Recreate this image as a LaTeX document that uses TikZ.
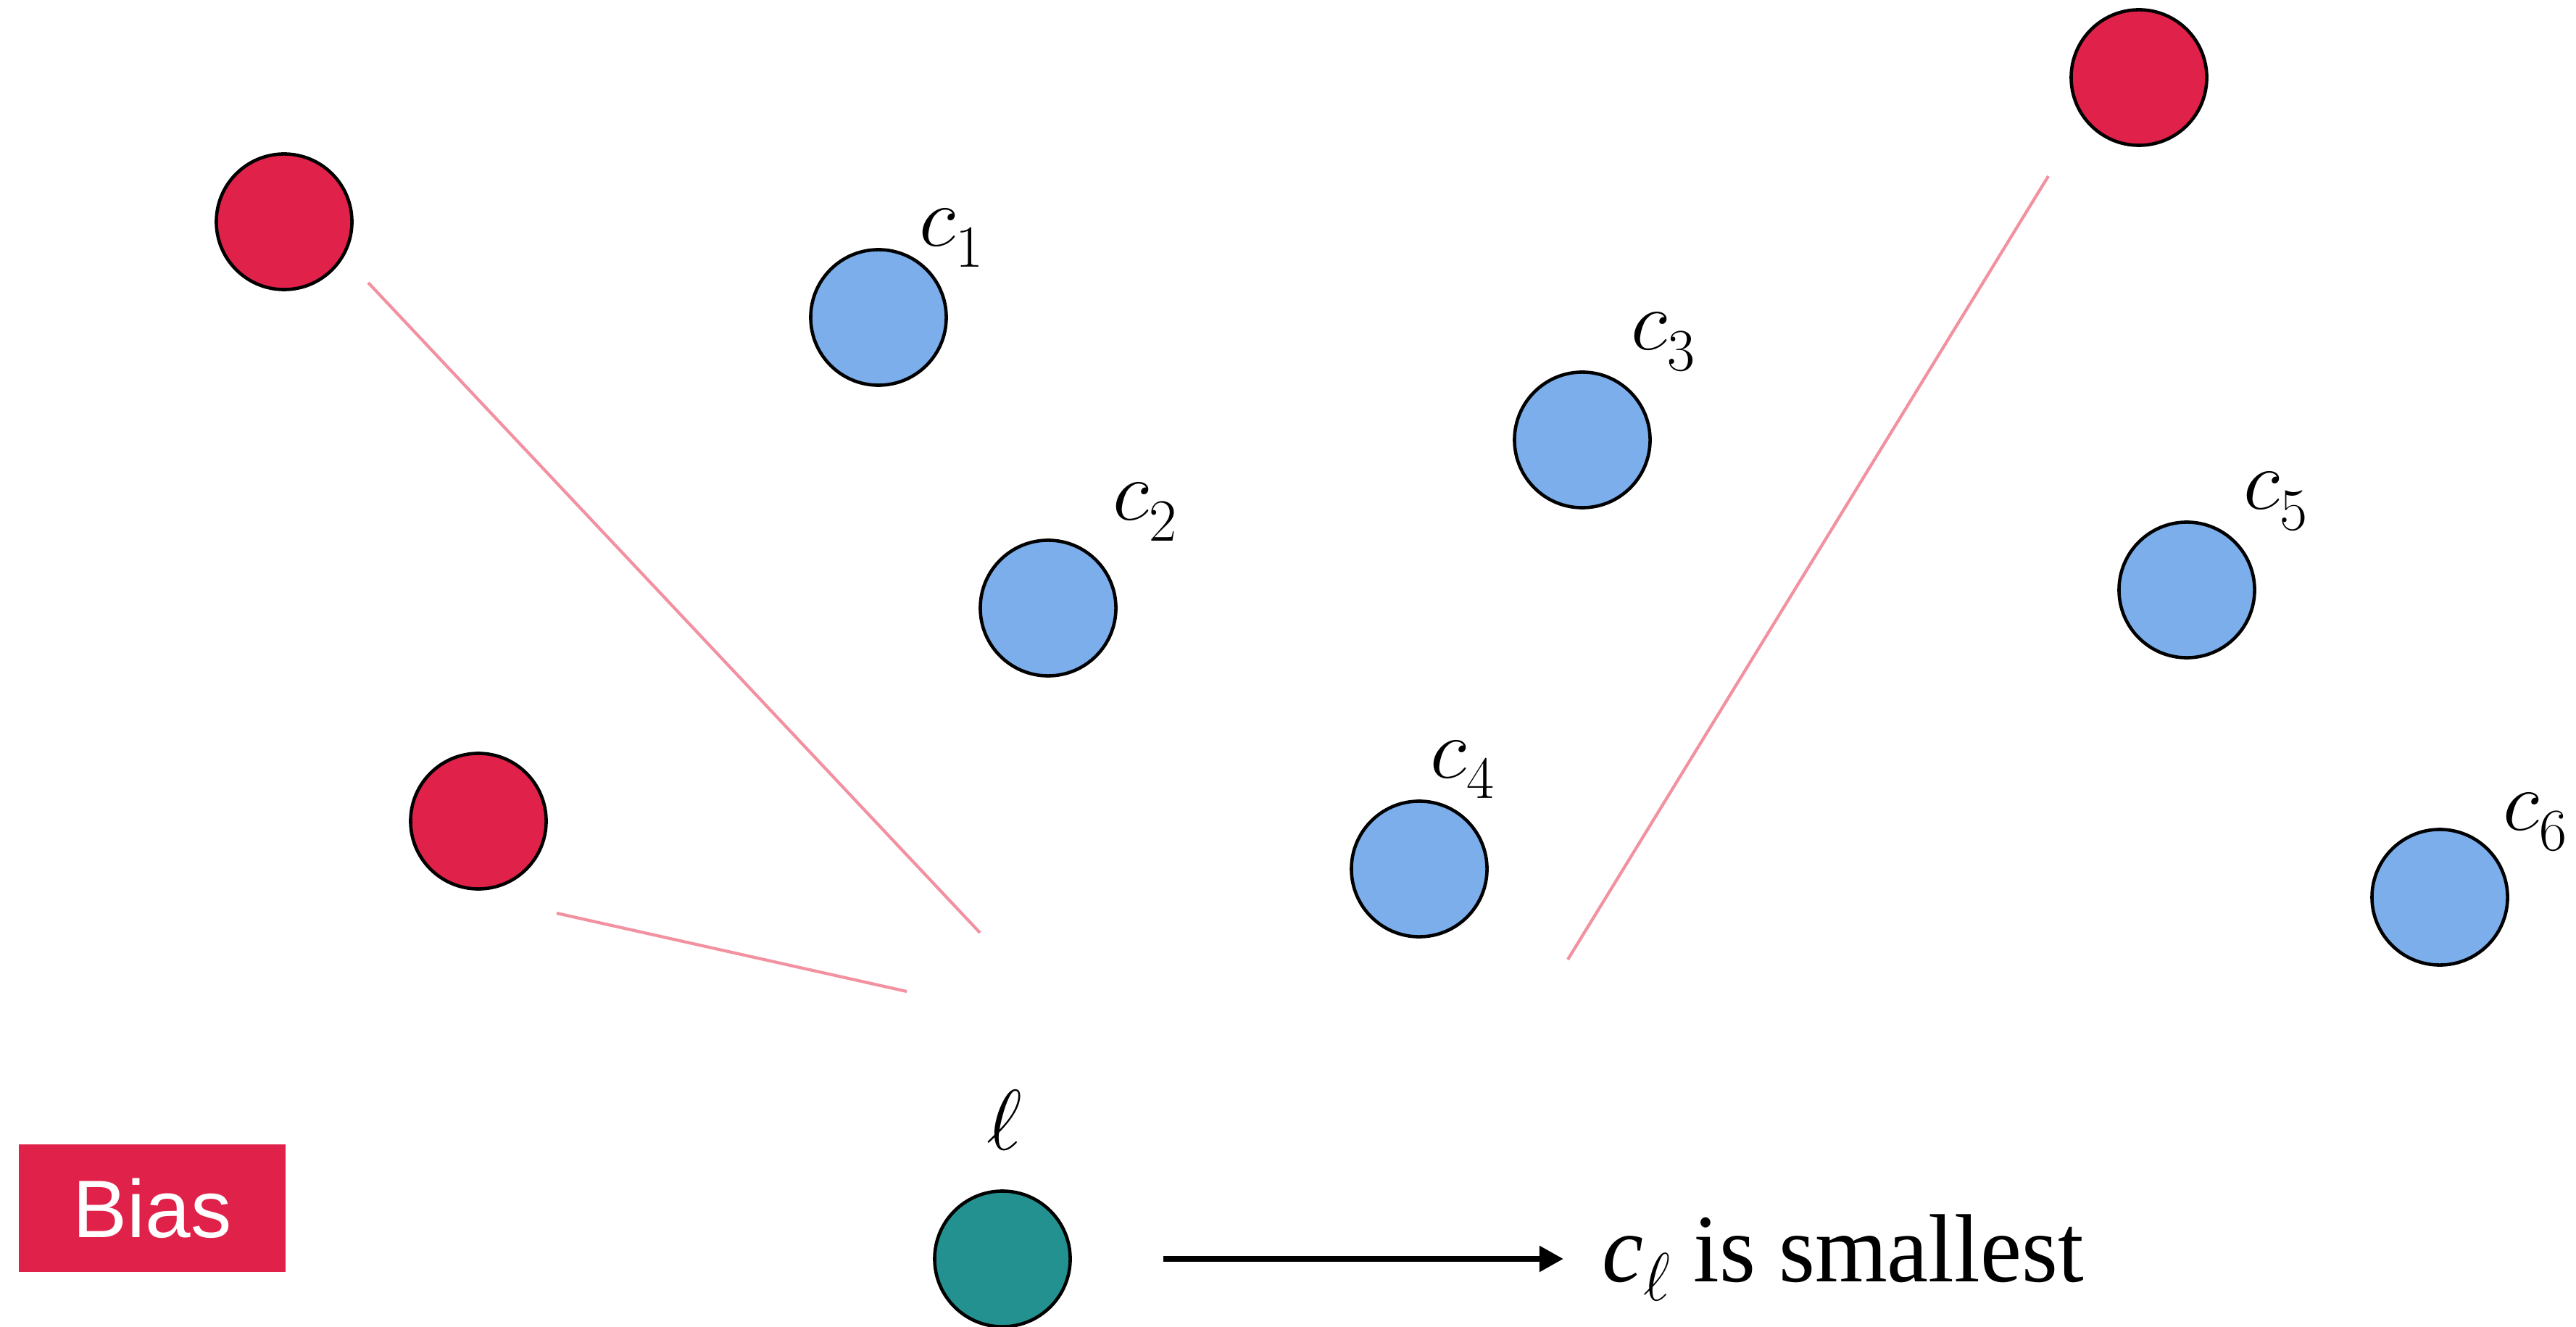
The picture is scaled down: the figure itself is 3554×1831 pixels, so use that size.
\RequirePackage{fix-cm}
\documentclass[tikz,border=0pt]{standalone}
\usepackage{graphicx}
\usepackage{fontspec}
\setmainfont{Liberation Serif}
\newfontfamily\biasfont{Liberation Sans}
\usetikzlibrary{arrows.meta}
\definecolor{redc}{HTML}{E0224A}
\definecolor{bluec}{HTML}{7BAEEB}
\definecolor{tealc}{HTML}{23918F}
\definecolor{pinkc}{HTML}{F291A0}
\newcommand{\clab}[1]{$c$\raisebox{-0.245em}{$\scriptstyle #1$}}
\begin{document}
\begin{tikzpicture}[x=0.01cm,y=-0.01cm,
  dot/.style={circle,draw=black,line width=1.3pt,minimum size=1.87cm,inner sep=0pt,outer sep=0pt},
  reddot/.style={dot,fill=redc},
  bluedot/.style={dot,fill=bluec},
  tealdot/.style={dot,fill=tealc},
  lab/.style={anchor=base west,inner sep=0pt,font=\fontsize{33.6}{40}\selectfont},
  biasline/.style={draw=pinkc,line width=1.2pt},
  arr/.style={-{Triangle[length=9.4pt,width=9.7pt]},line width=2.3pt},
  biasbox/.style={fill=redc,text=white,minimum width=3.68cm,minimum height=1.75cm,inner sep=0pt,font=\biasfont\fontsize{32}{38}\selectfont}]
\useasboundingbox (0,0) rectangle (3554,1831);

% red (bias) points
\node[reddot] (r1) at (392,306) {};
\node[reddot] (r2) at (660,1133) {};
\node[reddot] (r3) at (2951,107) {};

% blue points
\node[bluedot] (c1) at (1212,438) {};
\node[bluedot] (c2) at (1446,839) {};
\node[bluedot] (c3) at (2183,607) {};
\node[bluedot] (c4) at (1958,1199) {};
\node[bluedot] (c5) at (3017,814) {};
\node[bluedot] (c6) at (3366,1238) {};

% teal point
\node[tealdot] (ell) at (1383,1737) {};

% labels
\node[lab] (l1) at (1268,340) {\clab{1}};
\node[lab] (l2) at (1535,718) {\clab{2}};
\node[lab] (l3) at (2250,483) {\clab{3}};
\node[lab] (l4) at (1973,1073) {\clab{4}};
\node[lab] (l5) at (3095,703) {\clab{5}};
\node[lab] (l6) at (3453,1145) {\clab{6}};
\node[anchor=base,inner sep=0pt,font=\fontsize{33.6}{40}\selectfont] (lell) at (1386,1586) {$\ell$};

% bias lines
\coordinate (p1a) at (508,390);
\coordinate (p1b) at (1352,1287);
\coordinate (p2a) at (768,1260);
\coordinate (p2b) at (1251,1368);
\coordinate (p3a) at (2826,243);
\coordinate (p3b) at (2163,1324);
\draw[biasline] (p1a) -- (p1b);
\draw[biasline] (p2a) -- (p2b);
\draw[biasline] (p3a) -- (p3b);

% arrow and result text
\coordinate (a1) at (1605,1737);
\coordinate (a2) at (2157,1737);
\draw[arr] (a1) -- (a2);
\node[anchor=base west,inner sep=0pt,font=\fontsize{38}{45}\selectfont] (res) at (2210,1768)
  {\scalebox{0.96}[1]{\itshape c\raisebox{-0.2em}{$\scriptstyle\ell$}\upshape\ is smallest}};

% bias legend
\node[biasbox] (bias) at (210,1667) {Bias};
\end{tikzpicture}
\end{document}
